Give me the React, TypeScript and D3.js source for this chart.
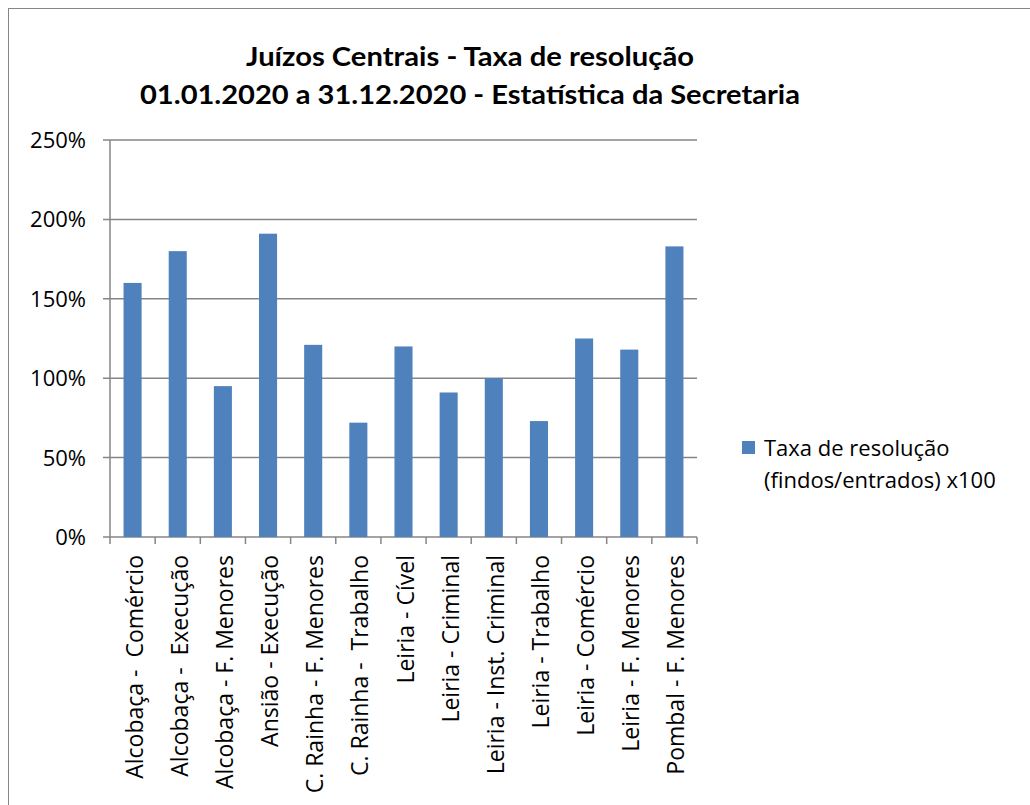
import React from "react";
import * as d3 from "d3";

const categories = [
  "Alcobaça -  Comércio",
  "Alcobaça -  Execução",
  "Alcobaça - F. Menores",
  "Ansião - Execução",
  "C. Rainha - F. Menores",
  "C. Rainha -  Trabalho",
  "Leiria - Cível",
  "Leiria - Criminal",
  "Leiria - Inst. Criminal",
  "Leiria - Trabalho",
  "Leiria - Comércio",
  "Leiria - F. Menores",
  "Pombal - F. Menores",
];
const values = [160, 180, 95, 191, 121, 72, 120, 91, 100, 73, 125, 118, 183];
const yTicks = [0, 50, 100, 150, 200, 250];
const titleLines = [
  "Juízos Centrais - Taxa de resolução",
  "01.01.2020 a 31.12.2020 - Estatística da Secretaria",
];
const legendLines = ["Taxa de resolução", "(findos/entrados) x100"];

const W = 1030;
const H = 805;
const plot = { left: 110, right: 697, top: 140, bottom: 537 };
const TITLE_FONT = "Lato, 'Open Sans', sans-serif";
const FONT = "'Open Sans', Lato, sans-serif";
const BAR = "#4F81BD";
const GRID = "#868686";
const titleWidths = [448, 660];

export default function App() {
  const x = d3
    .scaleBand<string>()
    .domain(categories)
    .range([plot.left, plot.right])
    .paddingInner(0.6)
    .paddingOuter(0.3);
  const band = d3.scaleBand<string>().domain(categories).range([plot.left, plot.right]);
  const y = d3.scaleLinear().domain([0, 250]).range([plot.bottom, plot.top]);

  return (
    <svg
      width={W}
      height={H}
      style={{ position: "absolute", left: 0, top: 0, display: "block" }}
      fontFamily={FONT}
    >
      <rect x={0} y={0} width={W} height={H} fill="#fff" />
      <rect x={8.5} y={8.5} width={W + 20} height={H + 20} fill="none" stroke={GRID} strokeWidth={1} />
      {titleLines.map((t, i) => (
        <text
          key={i}
          x={470}
          y={66 + i * 38}
          textAnchor="middle"
          fontSize={26}
          fontWeight="bold"
          fontFamily={TITLE_FONT}
          fill="#000"
          textLength={titleWidths[i]}
          lengthAdjust="spacingAndGlyphs"
        >
          {t}
        </text>
      ))}
      {yTicks.map((t) => (
        <g key={t}>
          <line x1={plot.left - 7} x2={plot.right} y1={y(t)} y2={y(t)} stroke={GRID} strokeWidth={1.5} />
          <text x={86} y={y(t) + 8} textAnchor="end" fontSize={22} fill="#000">
            {t}%
          </text>
        </g>
      ))}
      <line x1={plot.left} x2={plot.left} y1={plot.top} y2={plot.bottom} stroke={GRID} strokeWidth={1.5} />
      {categories.map((c, i) => (
        <rect
          key={c}
          x={x(c)}
          y={y(values[i])}
          width={x.bandwidth()}
          height={plot.bottom - y(values[i])}
          fill={BAR}
        />
      ))}
      {[...categories.map((c) => band(c) as number), plot.right].map((bx, i) => (
        <line key={i} x1={bx} x2={bx} y1={plot.bottom} y2={plot.bottom + 7} stroke={GRID} strokeWidth={1.5} />
      ))}
      {categories.map((c) => {
        const cx = (band(c) as number) + band.bandwidth() / 2;
        return (
          <text
            key={c}
            transform={`translate(${cx + 10},${plot.bottom + 18}) rotate(-90)`}
            textAnchor="end"
            fontSize={23}
            fill="#000"
            style={{ whiteSpace: "pre" }}
          >
            {c}
          </text>
        );
      })}
      <rect x={742} y={441} width={13} height={13} fill={BAR} />
      {legendLines.map((t, i) => (
        <text key={i} x={764} y={456 + i * 32} fontSize={22} fill="#000">
          {t}
        </text>
      ))}
    </svg>
  );
}
